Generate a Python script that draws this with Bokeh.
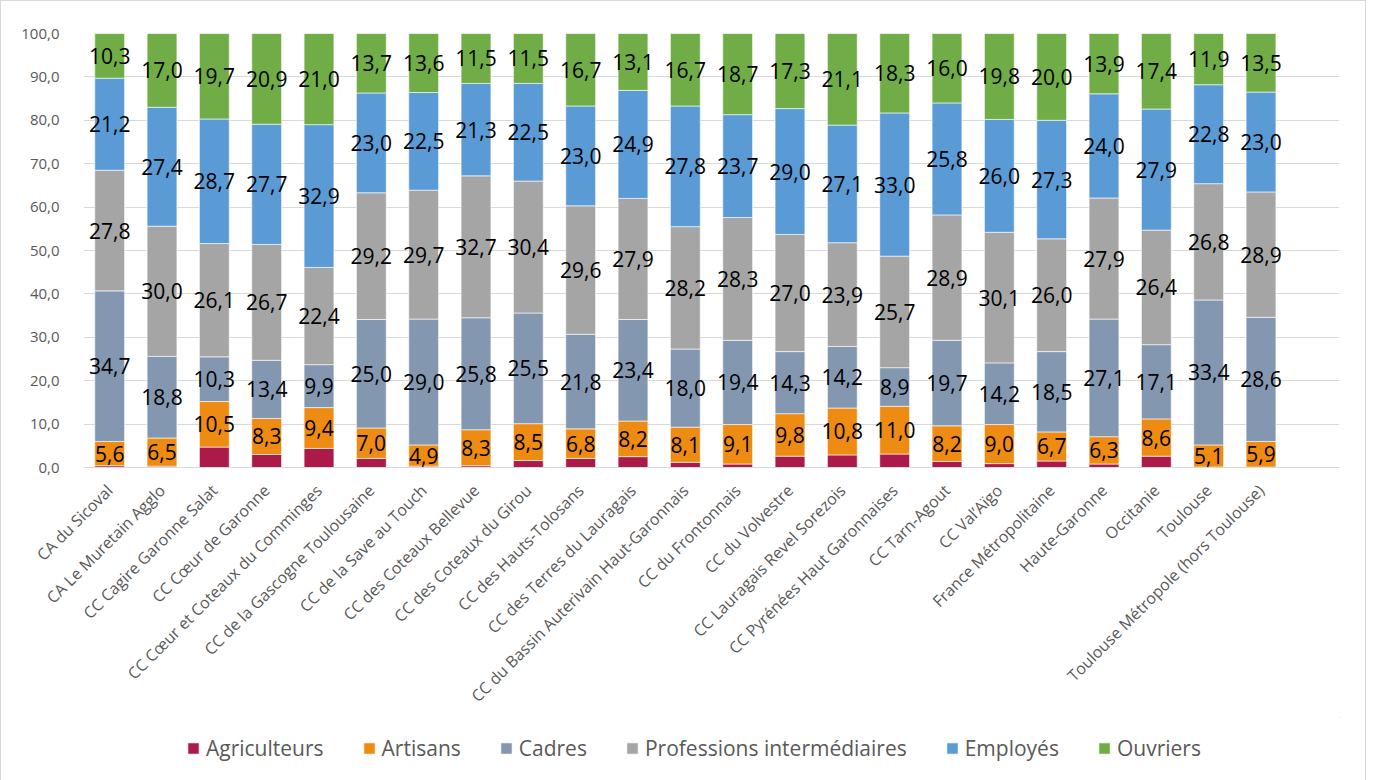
import math
from bokeh.plotting import figure
from bokeh.layouts import column
from bokeh.models import (ColumnDataSource, Range1d, FixedTicker, Legend, LegendItem)
from bokeh.core.properties import value
from bokeh.embed import file_html
from bokeh.resources import INLINE

categories = [
    "CA du Sicoval", "CA Le Muretain Agglo", "CC Cagire Garonne Salat",
    "CC Cœur de Garonne", "CC Cœur et Coteaux du Comminges",
    "CC de la Gascogne Toulousaine", "CC de la Save au Touch",
    "CC des Coteaux Bellevue", "CC des Coteaux du Girou",
    "CC des Hauts-Tolosans", "CC des Terres du Lauragais",
    "CC du Bassin Auterivain Haut-Garonnais", "CC du Frontonnais",
    "CC du Volvestre", "CC Lauragais Revel Sorezois",
    "CC Pyrénées Haut Garonnaises", "CC Tarn-Agout", "CC Val’Aïgo",
    "France Métropolitaine", "Haute-Garonne", "Occitanie", "Toulouse",
    "Toulouse Métropole (hors Toulouse)",
]

agriculteurs = [0.4, 0.3, 4.7, 3.0, 4.4, 2.1, 0.3, 0.4, 1.6, 2.1, 2.5, 1.2,
                0.8, 2.6, 2.9, 3.1, 1.4, 0.9, 1.5, 0.8, 2.6, 0.1, 0.1]
artisans = [5.6, 6.5, 10.5, 8.3, 9.4, 7.0, 4.9, 8.3, 8.5, 6.8, 8.2, 8.1,
            9.1, 9.8, 10.8, 11.0, 8.2, 9.0, 6.7, 6.3, 8.6, 5.1, 5.9]
cadres = [34.7, 18.8, 10.3, 13.4, 9.9, 25.0, 29.0, 25.8, 25.5, 21.8, 23.4, 18.0,
          19.4, 14.3, 14.2, 8.9, 19.7, 14.2, 18.5, 27.1, 17.1, 33.4, 28.6]
professions = [27.8, 30.0, 26.1, 26.7, 22.4, 29.2, 29.7, 32.7, 30.4, 29.6, 27.9, 28.2,
               28.3, 27.0, 23.9, 25.7, 28.9, 30.1, 26.0, 27.9, 26.4, 26.8, 28.9]
employes = [21.2, 27.4, 28.7, 27.7, 32.9, 23.0, 22.5, 21.3, 22.5, 23.0, 24.9, 27.8,
            23.7, 29.0, 27.1, 33.0, 25.8, 26.0, 27.3, 24.0, 27.9, 22.8, 23.0]
ouvriers = [10.3, 17.0, 19.7, 20.9, 21.0, 13.7, 13.6, 11.5, 11.5, 16.7, 13.1, 16.7,
            18.7, 17.3, 21.1, 18.3, 16.0, 19.8, 20.0, 13.9, 17.4, 11.9, 13.5]

series_names = ["Agriculteurs", "Artisans", "Cadres",
                "Professions intermédiaires", "Employés", "Ouvriers"]
series_values = [agriculteurs, artisans, cadres, professions, employes, ouvriers]
colors = ["#AC1A4A", "#EE8B12", "#8497B0", "#A5A5A5", "#5B9BD5", "#70AD47"]
labelled = [False, True, True, True, True, True]

y_ticks = [0, 10, 20, 30, 40, 50, 60, 70, 80, 90, 100]

FONT = "Open Sans"
GREY = "#595959"

xs = list(range(len(categories)))
data = {"x": xs}
keys = ["s%d" % i for i in range(len(series_names))]
for k, vals in zip(keys, series_values):
    data[k] = vals
source = ColumnDataSource(data)

p = figure(width=1364, height=716, output_backend="svg", toolbar_location=None,
           x_range=Range1d(-0.5, len(categories) + 0.5), y_range=Range1d(0, 100),
           min_border_left=82, min_border_right=26, min_border_top=32,
           min_border_bottom=250, background_fill_color="white",
           border_fill_color="white")
p.outline_line_color = None

renderers = p.vbar_stack(keys, x="x", width=0.57, color=colors, source=source,
                         line_color="white", line_width=0.6)

# data labels
bottoms = [0.0] * len(categories)
for vals, show in zip(series_values, labelled):
    mids = [b + v / 2 for b, v in zip(bottoms, vals)]
    if show:
        txt = [("%.1f" % v).replace(".", ",") for v in vals]
        p.text(x=xs, y=mids, text=txt, text_align="center", text_baseline="middle",
               text_font=value(FONT), text_font_size="21px", text_color="black")
    bottoms = [b + v for b, v in zip(bottoms, vals)]

# y axis
p.yaxis.ticker = FixedTicker(ticks=y_ticks)
p.yaxis.major_label_overrides = {t: "%d,0" % t for t in y_ticks}
p.yaxis.axis_line_color = None
p.yaxis.major_tick_line_color = None
p.yaxis.minor_tick_line_color = None
p.yaxis.major_label_standoff = 18
p.yaxis.major_label_text_font = FONT
p.yaxis.major_label_text_font_size = "15px"
p.yaxis.major_label_text_color = GREY

# x axis
p.xaxis.ticker = FixedTicker(ticks=xs)
p.xaxis.major_label_overrides = {i: c for i, c in enumerate(categories)}
p.xaxis.major_label_orientation = math.pi / 4
p.xaxis.axis_line_color = "#d9d9d9"
p.xaxis.major_tick_line_color = None
p.xaxis.minor_tick_line_color = None
p.xaxis.major_label_standoff = 14
p.xaxis.major_label_text_font = FONT
p.xaxis.major_label_text_font_size = "16px"
p.xaxis.major_label_text_color = GREY

p.xgrid.grid_line_color = None
p.ygrid.grid_line_color = "#d9d9d9"
p.ygrid.grid_line_width = 1

# legend strip below the chart (swatch glyphs sit outside its visible range)
pl = figure(width=1364, height=63, output_backend="svg", toolbar_location=None,
            x_range=Range1d(0, 1), y_range=Range1d(0, 1),
            min_border=0, x_axis_location=None, y_axis_location=None,
            background_fill_color="white", border_fill_color="white")
pl.outline_line_color = None
pl.xgrid.grid_line_color = None
pl.ygrid.grid_line_color = None
dummy = [pl.vbar(x=[5], top=[5], bottom=[4], width=0.1, color=c,
                 line_color="white", line_width=0.6)
         for c in colors]
legend = Legend(items=[LegendItem(label=n, renderers=[r]) for n, r in zip(series_names, dummy)],
                orientation="horizontal", location=(103, 18),
                glyph_width=14, glyph_height=14, label_standoff=6, spacing=38,
                padding=0, margin=0, border_line_color=None,
                background_fill_alpha=0,
                label_text_font=FONT, label_text_font_size="21px",
                label_text_color=GREY)
pl.add_layout(legend, "center")

layout = column(p, pl, spacing=0, styles={"border": "1px solid #d9d9d9"})

open("out.html", "w").write(file_html(layout, INLINE))
